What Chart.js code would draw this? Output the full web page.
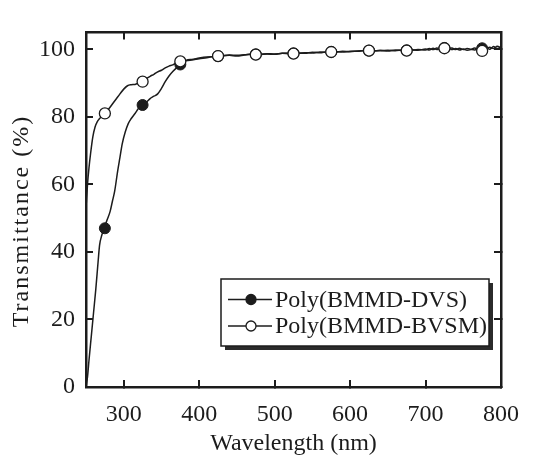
<!DOCTYPE html>
<html>
<head>
<meta charset="utf-8">
<script src="https://cdn.jsdelivr.net/npm/chart.js@4"></script>
<style>
  html, body { margin: 0; padding: 0; background: #fff; }
</style>
</head>
<body>
<canvas id="transChart" width="539" height="462"></canvas>
<script>
// Transmittance spectra of the two polymer films
const seriesNames = ['Poly(BMMD-DVS)', 'Poly(BMMD-BVSM)'];

// absorption edge, read separately for each film
const dvsEdgeWave = [250, 252, 254, 257, 260, 263, 266, 268, 271, 274, 278, 282, 285, 288, 292, 295, 298, 302,
  306, 310, 315, 320, 325, 330, 335, 340, 345, 350, 355, 360, 365, 370, 375, 380, 385, 390];
const dvsEdge = [0, 3, 8, 15, 22, 29, 37, 42, 45, 47, 49.5, 52, 55, 58, 64, 68, 72, 75.5,
  78, 79.5, 81, 82.6, 83.5, 84.3, 85.4, 86.1, 86.8, 88.4, 90.4, 92.1, 93.4, 94.5, 95.4, 96.4, 96.9, 97.0];

const bvsmEdgeWave = [250, 252, 254, 256, 259, 262, 265, 268, 272, 275, 280, 285, 290, 295, 300, 305,
  310, 315, 320, 325, 330, 335, 340, 345, 350, 355, 360, 365, 370, 375, 380, 390];
const bvsmEdge = [53, 60, 65, 69, 74, 77, 78.6, 79.5, 80.4, 81, 82.3, 83.8, 85.3, 86.8, 88.2, 89.2,
  89.5, 89.6, 90, 90.4, 91.3, 92, 92.6, 93.3, 93.8, 94.5, 95, 95.4, 96, 96.4, 96.6, 96.8];

// visible plateau
const plateauWave = [400, 410, 420, 430, 440, 450, 460, 470, 480, 490, 500, 510, 520, 530, 540, 550,
  560, 570, 580, 590, 600, 610, 620, 630, 640, 650, 660, 670, 680, 690, 700,
  705, 710, 715, 720, 725, 730, 735, 740, 745, 750, 755, 760, 765, 770, 775, 780, 785, 790, 795, 800];
const dvsPlateau = [97.4, 97.7, 97.8, 98.0, 98.3, 98.2, 98.4, 98.6, 98.5, 98.7, 98.6, 98.8, 98.9, 98.8, 99.0, 98.9,
  99.2, 99.1, 99.3, 99.2, 99.4, 99.4, 99.7, 99.6, 99.6, 99.7, 99.6, 99.8, 99.7, 99.9, 99.8,
  100.2, 99.9, 100.4, 100.1, 100.6, 100.2, 100.4, 99.9, 100.3, 99.9, 100.2, 100.0, 99.8, 100.3, 100.7, 100.1, 100.6, 100.2, 100.9, 100.4];
const bvsmPlateau = [97.2, 97.5, 97.9, 98.1, 98.2, 98.0, 98.3, 98.5, 98.4, 98.6, 98.5, 98.8, 98.7, 98.9, 98.8, 99.1,
  99.0, 99.3, 99.2, 99.4, 99.3, 99.5, 99.6, 99.5, 99.7, 99.5, 99.8, 99.6, 99.9, 99.7, 100.1,
  99.8, 100.3, 99.9, 100.4, 100.3, 100.5, 99.9, 100.2, 99.8, 100.1, 99.7, 99.9, 100.4, 99.8, 99.6, 100.6, 100.0, 100.8, 100.2, 100.5];

// symbols every 50 nm
const markWave = [275, 325, 375, 425, 475, 525, 575, 625, 675, 725, 775];
const dvsMark = [47, 83.5, 95.5, 98.0, 98.5, 98.8, 99.2, 99.6, 99.7, 100.4, 100.3];
const bvsmMark = [81, 90.4, 96.4, 98.0, 98.4, 98.7, 99.2, 99.6, 99.6, 100.3, 99.5];

const xTicks = [300, 400, 500, 600, 700, 800];
const yTicks = [0, 20, 40, 60, 80, 100];

const ink = '#1c1c1c';
const serif = "'Liberation Serif', 'Times New Roman', serif";

function pairs(xs, ys) {
  return xs.map((x, i) => ({ x: x, y: ys[i] }));
}

const frameGrid = { drawOnChartArea: false, tickLength: -7, lineWidth: 2, color: ink };
const frameBorder = { color: ink, width: 2.5 };

function xScale(position, height, showLabels) {
  return {
    type: 'linear', position: position, min: 250, max: 800,
    afterBuildTicks: s => { s.ticks = xTicks.map(v => ({ value: v })); },
    afterFit: s => { s.height = height; },
    grid: frameGrid, border: frameBorder,
    ticks: { display: showLabels, color: ink, font: { family: serif, size: 24 }, padding: 20, maxRotation: 0 }
  };
}

function yScale(position, width, showLabels) {
  return {
    type: 'linear', position: position, min: 0, max: 105,
    afterBuildTicks: s => { s.ticks = yTicks.map(v => ({ value: v })); },
    afterFit: s => { s.width = width; },
    grid: frameGrid, border: frameBorder,
    ticks: { display: showLabels, color: ink, font: { family: serif, size: 24 }, padding: 18 }
  };
}

// boxed legend with a drop shadow, sitting inside the plot
const legendBox = {
  id: 'legendBox',
  afterDraw(chart) {
    const c = chart.ctx;
    const bx = 221, by = 279, bw = 268, bh = 67;
    c.save();
    c.fillStyle = '#2b2b2b';
    c.fillRect(bx + 4, by + 4, bw, bh);
    c.fillStyle = '#fff';
    c.fillRect(bx, by, bw, bh);
    c.strokeStyle = ink;
    c.lineWidth = 1.5;
    c.strokeRect(bx, by, bw, bh);

    const rows = [299.5, 326];
    const fills = [ink, '#fff'];
    c.font = '24px ' + serif;
    c.textBaseline = 'middle';
    rows.forEach((ry, i) => {
      c.beginPath();
      c.moveTo(228, ry);
      c.lineTo(272, ry);
      c.lineWidth = 1.6;
      c.stroke();
      c.beginPath();
      c.arc(251, ry, 5, 0, Math.PI * 2);
      c.fillStyle = fills[i];
      c.fill();
      c.lineWidth = 1.3;
      c.stroke();
      c.fillStyle = ink;
      c.fillText(seriesNames[i], 275, ry + 1);
    });
    c.restore();
  }
};

// rotated y title, slightly letter-spaced
const yTitle = {
  id: 'yTitle',
  afterDraw(chart) {
    const c = chart.ctx;
    c.save();
    c.translate(22, 221);
    c.rotate(-Math.PI / 2);
    c.font = '24px ' + serif;
    c.letterSpacing = '2px';
    c.fillStyle = ink;
    c.textAlign = 'center';
    c.textBaseline = 'middle';
    c.fillText('Transmittance (%)', 0, 0);
    c.restore();
  }
};

const xBottom = xScale('bottom', 75, true);
xBottom.title = {
  display: true, text: 'Wavelength (nm)', color: ink,
  font: { family: serif, size: 24 }, padding: { top: 0, bottom: 4 }
};

new Chart(document.getElementById('transChart').getContext('2d'), {
  type: 'line',
  data: {
    datasets: [
      {
        label: seriesNames[1], data: pairs(markWave, bvsmMark), showLine: false,
        pointRadius: 5.5, pointBackgroundColor: '#fff', pointBorderColor: ink, pointBorderWidth: 1.3, order: 0
      },
      {
        label: seriesNames[0], data: pairs(markWave, dvsMark), showLine: false,
        pointRadius: 5.5, pointBackgroundColor: ink, pointBorderColor: ink, pointBorderWidth: 1, order: 1
      },
      {
        label: seriesNames[1], data: pairs(bvsmEdgeWave.concat(plateauWave), bvsmEdge.concat(bvsmPlateau)),
        borderColor: ink, borderWidth: 1.5, pointRadius: 0, cubicInterpolationMode: 'monotone', order: 2
      },
      {
        label: seriesNames[0], data: pairs(dvsEdgeWave.concat(plateauWave), dvsEdge.concat(dvsPlateau)),
        borderColor: ink, borderWidth: 1.5, pointRadius: 0, cubicInterpolationMode: 'monotone', order: 3
      }
    ]
  },
  options: {
    responsive: false,
    animation: false,
    layout: { padding: 0 },
    plugins: {
      legend: { display: false },
      tooltip: { enabled: false }
    },
    scales: {
      x: xBottom,
      xTop: xScale('top', 13, false),
      y: yScale('left', 86, true),
      yRight: yScale('right', 20, false)
    }
  },
  plugins: [legendBox, yTitle]
});
</script>
</body>
</html>
